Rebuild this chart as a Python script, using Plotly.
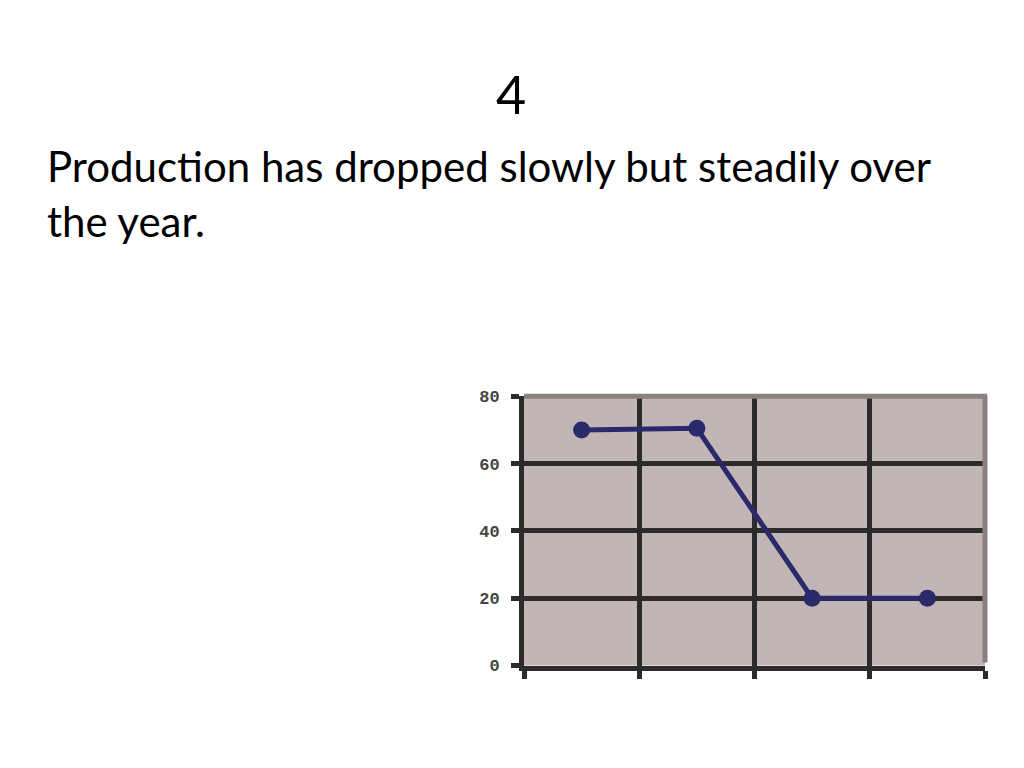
import plotly.graph_objects as go

categories = ["Q1", "Q2", "Q3", "Q4"]
production = [70, 70.5, 20, 20]
y_ticks = [0, 20, 40, 60, 80]
y_tick_labels = ["0", "20", "40", "60", "80"]

W, H = 1024, 768
x0, x1 = 516, 977
y_top, y_bot = 390, 666

fig = go.Figure()
fig.add_trace(go.Scatter(
    x=categories, y=production, mode="lines+markers",
    line=dict(color="#2a2a6a", width=5),
    marker=dict(color="#2a2a6a", size=17, symbol="circle"),
    showlegend=False, cliponaxis=False,
))

fig.update_layout(
    width=W, height=H,
    margin=dict(l=0, r=0, t=0, b=0),
    paper_bgcolor="white",
    plot_bgcolor="#c1b6b5",
    xaxis=dict(
        domain=[x0 / W, x1 / W],
        type="category", tickson="boundaries", range=[-0.5, 3.5],
        showticklabels=False, showgrid=True,
        gridcolor="#2b2b2b", gridwidth=5,
        ticks="outside", ticklen=8, tickwidth=5, tickcolor="#2b2b2b",
        showline=True, linecolor="#2b2b2b", linewidth=5, zeroline=False,
    ),
    yaxis=dict(
        domain=[1 - y_bot / H, 1 - y_top / H],
        range=[0, 80], tickvals=y_ticks, ticktext=y_tick_labels,
        showgrid=True, gridcolor="#2b2b2b", gridwidth=5,
        ticks="outside", ticklen=8, tickwidth=5, tickcolor="#2b2b2b",
        ticklabelstandoff=8,
        tickfont=dict(family="Liberation Mono", size=17, color="#444444", weight="bold"),
        showline=True, linecolor="#2b2b2b", linewidth=5,
        zeroline=False,
    ),
    shapes=[
        dict(type="line", xref="paper", yref="paper",
             x0=x0 / W, x1=x1 / W + 0.002, y0=1 - y_top / H, y1=1 - y_top / H,
             line=dict(color="#8a8280", width=5), layer="above"),
        dict(type="line", xref="paper", yref="paper",
             x0=x1 / W, x1=x1 / W, y0=1 - (y_bot - 3) / H, y1=1 - y_top / H,
             line=dict(color="#8a8280", width=5), layer="above"),
    ],
    annotations=[
        dict(text="4", x=503 / W, y=1 - 80 / H, xref="paper", yref="paper",
             xanchor="center", yanchor="middle", showarrow=False,
             font=dict(family="Lato", size=52, color="black")),
        dict(text="Production has dropped slowly but steadily over<br>the year.",
             x=37 / W, y=1 - 126 / H, xref="paper", yref="paper",
             xanchor="left", yanchor="top", align="left", showarrow=False,
             font=dict(family="Lato", size=42, color="black")),
    ],
)

fig.write_html("out.html")
